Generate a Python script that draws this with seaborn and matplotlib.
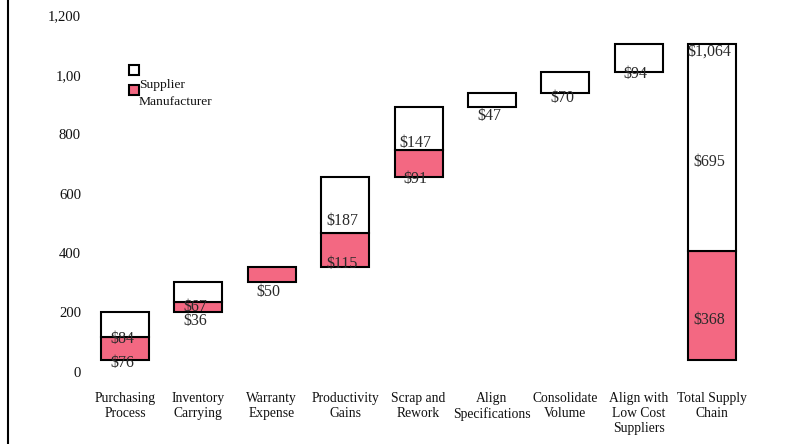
import numpy as np
import pandas as pd
import matplotlib
matplotlib.use("Agg")
import matplotlib.pyplot as plt
from matplotlib.patches import Rectangle
import seaborn as sns

# ---- data -------------------------------------------------------------
categories = [
    "Purchasing\nProcess",
    "Inventory\nCarrying",
    "Warranty\nExpense",
    "Productivity\nGains",
    "Scrap and\nRework",
    "Align\nSpecifications",
    "Consolidate\nVolume",
    "Align with\nLow Cost\nSuppliers",
]
total_category = "Total Supply\nChain"
manufacturer = [76, 36, 50, 115, 91, 0, 0, 0]
supplier = [84, 67, 0, 187, 147, 47, 70, 94]
manufacturer_total = 368
supplier_total = 695
grand_total = 1064
ytick_values = [0, 200, 400, 600, 800, 1000, 1200]
ytick_labels = ["0", "200", "400", "600", "800", "1,00", "1,200"]

# ---- styling ----------------------------------------------------------
sns.set_style("white")
plt.rcParams["font.family"] = ["Liberation Serif", "DejaVu Serif"]
RED = "#F36882"
W, H, DPI = 786, 444, 100
PX = 72.0 / DPI  # points per pixel

# ---- waterfall geometry -----------------------------------------------
order = categories + [total_category]
step_totals = np.array(manufacturer) + np.array(supplier)
start = np.concatenate([[0], np.cumsum(step_totals)[:-1]])
manu_h = np.array(manufacturer + [manufacturer_total])
sup_h = np.array(supplier + [supplier_total])
manu_bottom = np.append(start, 0)
sup_bottom = manu_bottom + manu_h

df = pd.DataFrame({
    "category": order * 2,
    "series": ["Manufacturer"] * len(order) + ["Supplier"] * len(order),
    "value": np.concatenate([manu_h, sup_h]),
    "bottom": np.concatenate([manu_bottom, sup_bottom]),
})

fig = plt.figure(figsize=(W / DPI, H / DPI), dpi=DPI, facecolor="white")
ax = fig.add_axes([8 / W, 0, 778 / W, 1])

fills = {"Manufacturer": RED, "Supplier": "white"}
for name, fill in fills.items():
    sub = df[(df["series"] == name) & (df["value"] > 0)]
    sns.barplot(
        data=sub, x="category", y="value", order=order,
        bottom=sub["bottom"].to_numpy(), color=fill, saturation=1,
        edgecolor="black", linewidth=1.5, width=0.655, errorbar=None, ax=ax,
    )

ax.set_xlim(-1.594, 9.005)
ax.set_ylim(-283, 1212)
ax.set_xlabel("")
ax.set_ylabel("")

# ---- value labels (vertical offsets in px from each segment's bottom) --
manu_dy = [-3, -9, -10, 2.5, -1.3, None, None, None, 40]
sup_dy = [-2, -5, None, 12, 7.5, -9, -5.6, -2, 89]
label_kw = dict(ha="center", va="center", fontsize=11.5, color="#2a2a2a",
                textcoords="offset points")
for i in range(len(order)):
    if manu_h[i] > 0 and manu_dy[i] is not None:
        ax.annotate(f"${manu_h[i]:,}", (i, manu_bottom[i]),
                    xytext=(-3 * PX, manu_dy[i] * PX), **label_kw)
    if sup_h[i] > 0 and sup_dy[i] is not None:
        ax.annotate(f"${sup_h[i]:,}", (i, sup_bottom[i]),
                    xytext=(-3 * PX, sup_dy[i] * PX), **label_kw)
last = len(order) - 1
ax.annotate(f"${grand_total:,}", (last, sup_bottom[last] + sup_h[last]),
            xytext=(-3 * PX, -7 * PX), **label_kw)

# ---- axes --------------------------------------------------------------
for side in ["top", "right", "bottom"]:
    ax.spines[side].set_visible(False)
ax.spines["left"].set_color("black")
ax.spines["left"].set_linewidth(1.5)
ax.tick_params(axis="y", left=False, labelleft=False)
ax.set_xticks(range(len(order)), labels=order)
ax.tick_params(axis="x", length=0, pad=-52 * PX, labelsize=9.8, labelcolor="#111111")

# value axis labels sit inside the frame, slightly below their gridline value
shift = 40
sec = ax.secondary_yaxis((81 - 8) / 778, functions=(lambda y: y + shift, lambda y: y - shift))
sec.set_ticks(ytick_values, labels=ytick_labels)
sec.tick_params(length=0, pad=0, labelsize=10.6, labelcolor="#111111")
sec.spines["left"].set_visible(False)

# ---- legend ------------------------------------------------------------
def px_rect(x0, y0, x1, y1, fc):
    return Rectangle((x0 / W, 1 - y1 / H), (x1 - x0) / W, (y1 - y0) / H,
                     transform=fig.transFigure, facecolor=fc,
                     edgecolor="black", linewidth=1.5)

fig.add_artist(px_rect(129, 65, 139, 75, "white"))
fig.add_artist(px_rect(129, 85, 139, 95, RED))
fig.text(139 / W, 1 - 85 / H, "Supplier", ha="left", va="center", fontsize=9.7, color="#111111")
fig.text(139 / W, 1 - 101.7 / H, "Manufacturer", ha="left", va="center", fontsize=9.7, color="#111111")

fig.savefig("out.png", dpi=DPI, facecolor="white")
